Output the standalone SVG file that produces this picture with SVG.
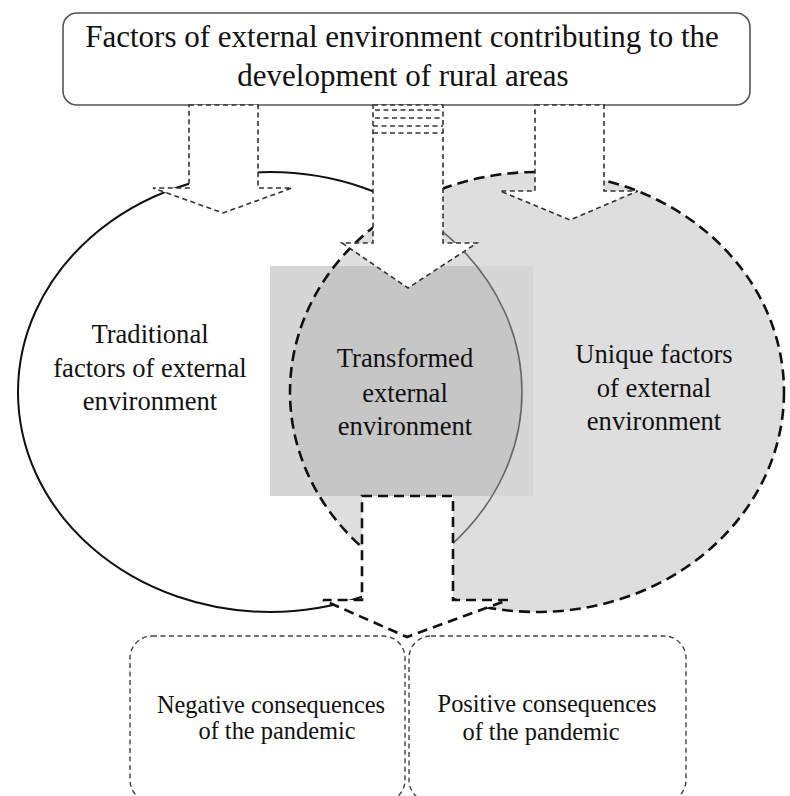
<svg xmlns="http://www.w3.org/2000/svg" width="790" height="796" viewBox="0 0 790 796">
<style>
.t{font-family:"Liberation Serif","Times New Roman",serif;fill:#111;text-anchor:middle}
.title{font-size:31px}
.ct{font-size:26.6px}
.bt{font-size:24.4px}
.thinarrow{fill:#fff;stroke:#333;stroke-width:1.6;stroke-dasharray:5 3.5}
.thinline{fill:none;stroke:#333;stroke-width:1.6;stroke-dasharray:5 3.5}
.boldarrow{fill:#fff;stroke:#111;stroke-width:2.6;stroke-dasharray:10 6}
.box{fill:#fff;stroke:#444;stroke-width:1.4;stroke-dasharray:5 3.5}
</style>
<defs>
<clipPath id="clipLeft"><ellipse cx="270" cy="392" rx="252" ry="220"/></clipPath>
<clipPath id="clipRight"><ellipse cx="537" cy="392" rx="247" ry="220"/></clipPath>
</defs>
<rect x="0" y="0" width="790" height="796" fill="#fff"/>

<g id="node-title">
<rect x="63" y="13" width="687" height="92" rx="14" fill="#fff" stroke="#555" stroke-width="1.6"/>
<text class="t title" x="402" y="47">Factors of external environment contributing to the</text>
<text class="t title" x="403" y="86">development of rural areas</text>
</g>

<g id="node-traditional">
<ellipse cx="270" cy="392" rx="252" ry="220" fill="none" stroke="#111" stroke-width="2"/>
</g>

<g id="node-unique">
<ellipse cx="537" cy="392" rx="247" ry="220" fill="#dedede"/>
</g>

<g id="node-transformed">
<rect x="270" y="266" width="263" height="230" fill="#d6d6d6"/>
<g clip-path="url(#clipLeft)">
<rect x="270" y="266" width="263" height="230" fill="#c6c6c6" clip-path="url(#clipRight)"/>
</g>
<g clip-path="url(#clipRight)">
<ellipse cx="270" cy="392" rx="252" ry="220" fill="none" stroke="#666" stroke-width="1.6"/>
</g>
</g>

<g id="node-unique-outline">
<ellipse cx="537" cy="392" rx="247" ry="220" fill="none" stroke="#111" stroke-width="2.6" stroke-dasharray="11 6"/>
</g>

<g id="labels">
<text class="t ct" x="150" y="343">Traditional</text>
<text class="t ct" x="150" y="377">factors of external</text>
<text class="t ct" x="150" y="410">environment</text>
<text class="t ct" x="405" y="367">Transformed</text>
<text class="t ct" x="405" y="402">external</text>
<text class="t ct" x="405" y="435">environment</text>
<text class="t ct" x="654" y="363">Unique factors</text>
<text class="t ct" x="654" y="397">of external</text>
<text class="t ct" x="654" y="430">environment</text>
</g>

<g id="connectors">
<path class="thinarrow" d="M189,105 L258,105 L258,188 L292,188 L223,213 L153,188 L189,188 Z"/>
<path class="thinarrow" d="M373,105 L443,105 L443,243 L477,243 L408,288 L342,243 L373,243 Z"/>
<path class="thinline" d="M375,110 H441 M375,118 H441 M373,126 H443 M373,133 H443"/>
<path class="thinarrow" d="M535,105 L604,105 L604,191 L638,191 L570,220 L500,191 L535,191 Z"/>
<path class="boldarrow" d="M362,496 L453,496 L453,600 L508,600 L407,637 L323,600 L362,600 Z"/>
</g>

<g id="node-negative">
<rect class="box" x="130" y="636" width="275" height="166" rx="22"/>
<text class="t bt" x="271" y="713">Negative consequences</text>
<text class="t bt" x="277" y="739">of the pandemic</text>
</g>

<g id="node-positive">
<rect class="box" x="409" y="636" width="277" height="166" rx="22"/>
<text class="t bt" x="547" y="712">Positive consequences</text>
<text class="t bt" x="541" y="740">of the pandemic</text>
</g>
</svg>
